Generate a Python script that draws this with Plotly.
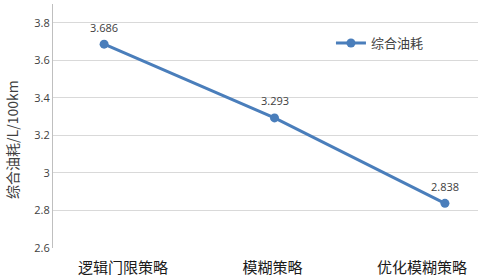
import plotly.graph_objects as go

categories = ["逻辑门限策略", "模糊策略", "优化模糊策略"]
fuel = [3.686, 3.293, 2.838]
series_name = "综合油耗"
y_title = "综合油耗/L/100km"
y_ticks = [2.6, 2.8, 3.0, 3.2, 3.4, 3.6, 3.8]
y_ticktext = ["2.6", "2.8", "3", "3.2", "3.4", "3.6", "3.8"]

color = "#4A7EBB"
xs = list(range(len(categories)))
fig = go.Figure()
fig.add_trace(go.Scatter(
    x=xs, y=fuel, mode="lines+markers",
    name=series_name,
    line=dict(color=color, width=3),
    marker=dict(color=color, size=9),
))
# invisible trace for category labels on a secondary x axis
fig.add_trace(go.Scatter(x=categories, y=[None]*len(categories), xaxis="x2",
                         showlegend=False, hoverinfo="skip", mode="markers"))

labels = [dict(x=xv, y=yv, text=f"{yv:.3f}", xref="x", yref="y", showarrow=False,
               yshift=17, font=dict(family="Open Sans, Noto Sans", size=11, color="#404040"))
          for xv, yv in zip(xs, fuel)]

fig.update_layout(
    width=482, height=278,
    margin=dict(l=53, r=4, t=4, b=30, autoexpand=False),
    paper_bgcolor="white", plot_bgcolor="white",
    showlegend=True,
    legend=dict(x=0.654, y=0.84, xanchor="left", yanchor="middle",
                font=dict(family="Noto Sans CJK SC", size=13, color="#404040"),
                bgcolor="rgba(0,0,0,0)", itemwidth=30),
    xaxis=dict(range=[-0.30, 2.194], showticklabels=False, showgrid=False,
               zeroline=False, showline=False, ticks="", automargin=False),
    xaxis2=dict(type="category", overlaying="x", side="bottom",
                range=[-0.468, 2.375], showgrid=False, zeroline=False,
                showline=False, ticks="", automargin=False, ticklabelstandoff=9,
                tickfont=dict(family="Noto Sans CJK SC", size=15, color="#1a1a1a")),
    yaxis=dict(range=[2.6, 3.9], tickvals=y_ticks, ticktext=y_ticktext,
               showgrid=True, gridcolor="#D9D9D9", gridwidth=1,
               zeroline=False, showline=True, linecolor="#BFBFBF",
               ticks="", ticklen=0, automargin=False,
               tickfont=dict(family="Open Sans, Noto Sans", size=11, color="#404040")),
    annotations=labels + [dict(text=y_title, textangle=-90, xref="paper", yref="paper",
                      x=-0.0965, y=0.447, xanchor="center", yanchor="middle",
                      showarrow=False,
                      font=dict(family="Noto Sans CJK SC", size=14, color="#404040"))],
)
fig.write_html("out.html", config={"displayModeBar": False},
               post_script="document.body.style.margin='0';")
